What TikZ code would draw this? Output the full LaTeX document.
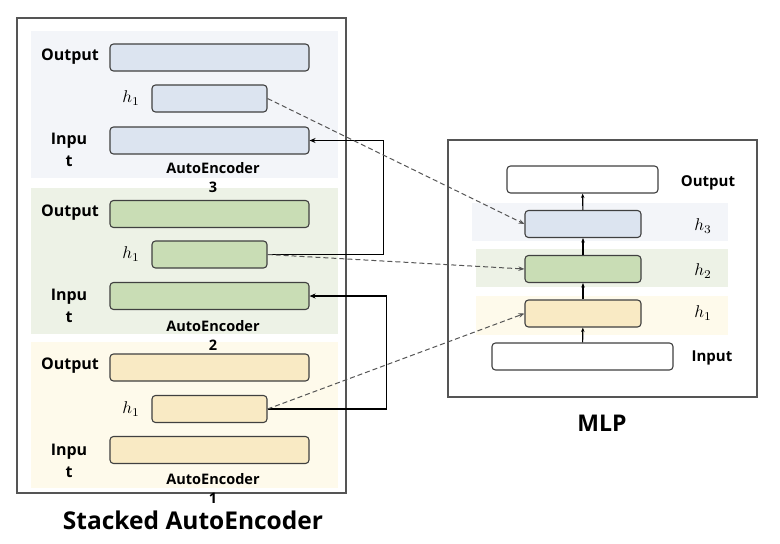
\documentclass[tikz,border=0pt]{standalone}
\usepackage{fontspec}
\setmainfont{Open Sans}[BoldFont={Open Sans Bold}]
\usetikzlibrary{arrows.meta}

\definecolor{blueband}{HTML}{F3F5F9}
\definecolor{bluebox}{HTML}{DCE4F0}
\definecolor{greenband}{HTML}{EDF2E6}
\definecolor{greenbox}{HTML}{C9DDB5}
\definecolor{yellowband}{HTML}{FEFAEB}
\definecolor{yellowbox}{HTML}{F9EAC4}
\definecolor{framegray}{HTML}{555555}

\newcommand{\hvar}[1]{\scalebox{1.7}{$h_{#1}$}}

\begin{document}
\begin{tikzpicture}[x=1pt,y=-1pt,
  layer node/.style={draw=black!75,line width=1.1pt,rounded corners=3.5pt,minimum height=27pt,inner sep=0pt},
  wide node/.style={layer node,minimum width=199pt},
  short node/.style={layer node,minimum width=115pt},
  name label/.style={font=\bfseries\fontsize{16}{22}\selectfont,align=center,inner sep=0pt},
  ae label/.style={font=\bfseries\fontsize{14.5}{19}\selectfont,align=center,inner sep=0pt},
  h label/.style={inner sep=0pt},
  title label/.style={font=\bfseries\fontsize{23}{28}\selectfont,inner sep=0pt},
  feed/.style={-{Stealth[length=6pt,width=5pt]},line width=1.6pt,black},
  copy/.style={-{Stealth[length=6pt,width=4.5pt]},line width=1pt,framegray,dash pattern=on 5pt off 3pt},
  up/.style={-{Stealth[length=4.5pt,width=3.5pt]},line width=1.1pt,black}]

  \useasboundingbox (0,0) rectangle (780,544);

  % stacked autoencoder frame and bands
  \draw[framegray,line width=1.1pt] (17,18) rectangle (346,493);
  \fill[blueband] (31,31) rectangle (338,178);
  \fill[greenband] (31,188) rectangle (338,334);
  \fill[yellowband] (31,342) rectangle (338,488);

  % autoencoder 3
  \node[wide node,fill=bluebox] (ae3out) at (209.5,57.5) {};
  \node[short node,fill=bluebox] (ae3h) at (209.5,98.5) {};
  \node[wide node,fill=bluebox] (ae3in) at (209.5,140.5) {};
  \node[name label] (ae3outlbl) at (70,57) {Output};
  \node[h label] (ae3hlbl) at (131,98) {\hvar{1}};
  \node[name label] (ae3inlbl) at (69,150) {Inpu\\t};
  \node[ae label] (ae3lbl) at (213,178) {AutoEncoder\\3};

  % autoencoder 2
  \node[wide node,fill=greenbox] (ae2out) at (209.5,214) {};
  \node[short node,fill=greenbox] (ae2h) at (209.5,254.5) {};
  \node[wide node,fill=greenbox] (ae2in) at (209.5,296) {};
  \node[name label] (ae2outlbl) at (70,213) {Output};
  \node[h label] (ae2hlbl) at (131,254) {\hvar{1}};
  \node[name label] (ae2inlbl) at (69,306) {Inpu\\t};
  \node[ae label] (ae2lbl) at (213,335) {AutoEncoder\\2};

  % autoencoder 1
  \node[wide node,fill=yellowbox] (ae1out) at (209.5,367.5) {};
  \node[short node,fill=yellowbox] (ae1h) at (209.5,409) {};
  \node[wide node,fill=yellowbox] (ae1in) at (209.5,450) {};
  \node[name label] (ae1outlbl) at (70,366) {Output};
  \node[h label] (ae1hlbl) at (131,409) {\hvar{1}};
  \node[name label] (ae1inlbl) at (69,461) {Inpu\\t};
  \node[ae label] (ae1lbl) at (213,488.5) {AutoEncoder\\1};

  \node[title label,font=\bfseries\fontsize{24.5}{28}\selectfont] (saetitle) at (193,520) {Stacked AutoEncoder};

  % mlp frame and bands
  \draw[framegray,line width=1.1pt] (448,140) rectangle (757,397);
  \fill[blueband] (472,203) rectangle (728,241);
  \fill[greenband] (476,249) rectangle (728,287);
  \fill[yellowband] (476,296) rectangle (728,335);

  \node[layer node,minimum width=151pt,fill=white] (mlpout) at (582.5,179.5) {};
  \node[layer node,minimum width=116pt,fill=bluebox] (mlph3) at (583,224) {};
  \node[layer node,minimum width=116pt,fill=greenbox] (mlph2) at (583,269) {};
  \node[layer node,minimum width=116pt,fill=yellowbox] (mlph1) at (583,313.5) {};
  \node[layer node,minimum width=181pt,fill=white] (mlpin) at (582.5,356.5) {};
  \node[ae label,font=\bfseries\fontsize{15}{19}\selectfont] (mlpoutlbl) at (708,183) {Output};
  \node[h label] (mlph3lbl) at (703,226) {\hvar{3}};
  \node[h label] (mlph2lbl) at (703,271) {\hvar{2}};
  \node[h label] (mlph1lbl) at (703,313) {\hvar{1}};
  \node[ae label,font=\bfseries\fontsize{15}{19}\selectfont] (mlpinlbl) at (712,358) {Input};
  \node[title label] (mlptitle) at (602,423) {MLP};

  % connectors
  \draw[up] (mlpin) -- (mlph1);
  \draw[up] (mlph1) -- (mlph2);
  \draw[up] (mlph2) -- (mlph3);
  \draw[up] (mlph3) -- (mlpout);
  \draw[feed] (ae1h.east) -- ++(119,0) |- (ae2in.east);
  \draw[feed] (ae2h.east) -- ++(116,0) |- (ae3in.east);
  \draw[copy] (ae3h.east) -- (mlph3.west);
  \draw[copy] (ae2h.east) -- (mlph2.west);
  \draw[copy] (ae1h.east) -- (mlph1.west);
\end{tikzpicture}
\end{document}
